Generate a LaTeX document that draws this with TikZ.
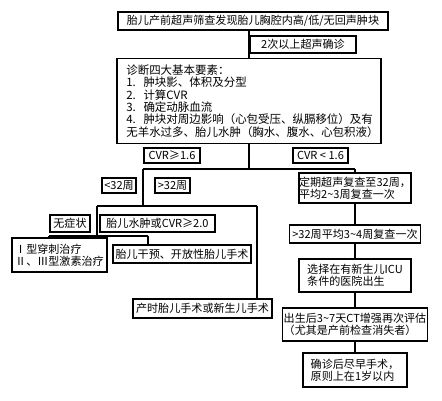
\documentclass[tikz,border=0pt]{standalone}
\usepackage{fontspec}
\setmainfont{Noto Sans CJK SC}
\tikzset{
	box/.style={draw, line width=0.8pt, inner sep=0pt, align=left, font=\fontsize{8.3}{9.2}\selectfont},
	sz/.style 2 args={minimum width=#1*0.75pt, minimum height=#2*0.75pt},
	link/.style={line width=0.8pt}
}
\begin{document}
\begin{tikzpicture}[x=0.75pt, y=-0.75pt]
	\useasboundingbox (0,0) rectangle (442,400);
	% main column
	\node[box, sz={270}{18}] (top) at (253,21) {胎儿产前超声筛查发现胎儿胸腔内高/低/无回声肿块};
	\node[box, sz={106}{17}] (confirm) at (303,44.5) {2次以上超声确诊};
	\node[box, sz={264}{85}, text width=184pt, font=\fontsize{8.6}{9.3}\selectfont] (diag) at (249,101) {诊断四大基本要素：\\
1.~~肿块影、体积及分型\\
2.~~计算CVR\\
3.~~确定动脉血流\\
4.~~肿块对周边影响（心包受压、纵膈移位）及有\\
无羊水过多、胎儿水肿（胸水、腹水、心包积液）};
	\node[box, sz={56}{15}] (cvrhi) at (172,155.5) {CVR≥1.6};
	\node[box, sz={55}{15}] (cvrlo) at (320.5,155.5) {CVR < 1.6};
	% left branch
	\node[box, sz={34}{15}] (lt32) at (119,185.5) {<32周};
	\node[box, sz={35}{15}] (gt32) at (172.5,185.5) {>32周};
	\node[box, sz={40}{17}] (asym) at (70,223.5) {无症状};
	\node[box, sz={115}{17}] (hydrops) at (157.5,223.5) {胎儿水肿或CVR≥2.0};
	\node[box, sz={95}{34}] (treat) at (59.5,255) {Ⅰ型穿刺治疗\\Ⅱ、Ⅲ型激素治疗};
	\node[box, sz={138}{18}] (fetal) at (182,254) {胎儿干预、开放性胎儿手术};
	\node[box, sz={139}{19}] (exit) at (202.5,308.5) {产时胎儿手术或新生儿手术};
	% right branch
	\node[box, sz={112}{30}] (follow) at (355,188) {定期超声复查至32周，\\平均2\textasciitilde 3周复查一次};
	\node[box, sz={131}{18}] (late) at (355,234) {>32周平均3\textasciitilde 4周复查一次};
	\node[box, sz={112}{33}] (nicu) at (355,275.5) {选择在有新生儿ICU\\条件的医院出生};
	\node[box, sz={145}{33}] (ct) at (355,324.5) {出生后3\textasciitilde 7天CT增强再次评估\\（尤其是产前检查消失者）};
	\node[box, sz={104}{34}] (surg) at (355,370) {确诊后尽早手术，\\原则上在1岁以内};
	% junctions
	\coordinate (cvrfork) at (249,169);
	\coordinate (hiend) at (143,169);
	\coordinate (loend) at (355,169);
	\coordinate (wkfork) at (143,206);
	\coordinate (wkl) at (97,206);
	\coordinate (wkr) at (257,206);
	\coordinate (symfork) at (97,236);
	\coordinate (syml) at (49,236);
	\coordinate (symr) at (148,236);
	% connectors
	\draw[link] (top.south -| diag.north) -- (diag.north);
	\draw[link] (diag.south) -- (cvrfork);
	\draw[link] (hiend) -- (loend);
	\draw[link] (hiend) -- (wkfork);
	\draw[link] (wkl) -- (wkr);
	\draw[link] (wkl) -- (symfork);
	\draw[link] (syml) -- (symr);
	\draw[link] (syml) -- (syml |- treat.north);
	\draw[link] (symr) -- (symr |- fetal.north);
	\draw[link] (wkr) -- (wkr |- exit.north);
	\draw[link] (loend) -- (follow.north);
	\draw[link] (follow) -- (late);
	\draw[link] (late) -- (nicu);
	\draw[link] (nicu) -- (ct);
	\draw[link] (ct) -- (surg);
\end{tikzpicture}
\end{document}
